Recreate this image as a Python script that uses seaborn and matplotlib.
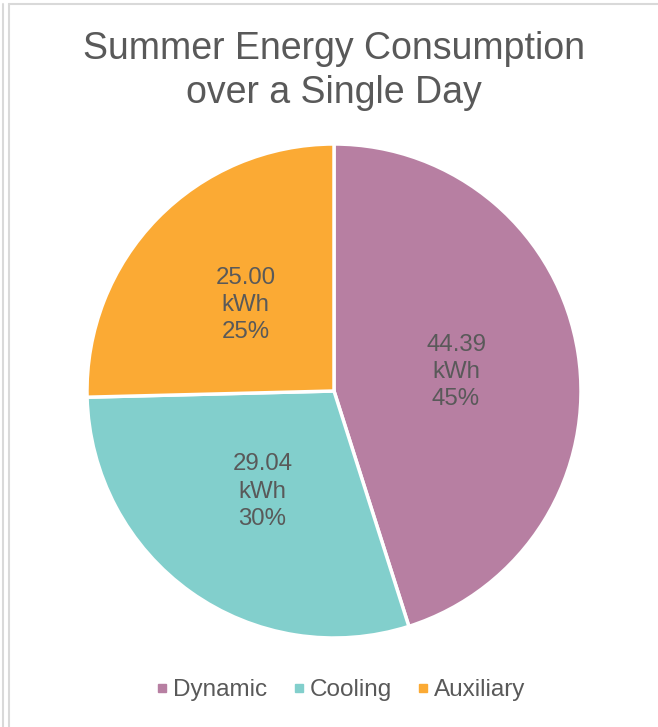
import matplotlib
matplotlib.use('Agg')
import matplotlib.pyplot as plt
import seaborn as sns
from matplotlib.lines import Line2D

sns.set_theme(style='white')
plt.rcParams['font.family'] = ['Liberation Sans', 'DejaVu Sans']

# chart data
categories = ['Dynamic', 'Cooling', 'Auxiliary']
energy_kwh = [44.39, 29.04, 25.00]
colors = ['#B77FA2', '#82CFCC', '#FBAA34']
text_color = '#595959'

total = sum(energy_kwh)

fig = plt.figure(figsize=(6.58, 7.27), dpi=100)
fig.patch.set_facecolor('white')

# pie axes placed to match the reference layout
ax = fig.add_axes([87 / 658, (727 - 638) / 727, 494 / 658, 494 / 727])


def label_fmt(pct):
    val = pct * total / 100
    return f'{val:.2f}\nkWh\n{pct:.0f}%'


wedges, texts, autotexts = ax.pie(
    energy_kwh,
    colors=colors,
    startangle=90,
    counterclock=False,
    radius=1,
    autopct=label_fmt,
    pctdistance=0.5,
    wedgeprops=dict(edgecolor='white', linewidth=2.5),
    textprops=dict(color=text_color, fontsize=17.3, linespacing=1.3),
)
ax.set_xlim(-1, 1)
ax.set_ylim(-1, 1)
ax.set_aspect('equal')
ax.axis('off')

fig.text(0.507, 1 - 71 / 727, 'Summer Energy Consumption\nover a Single Day',
         ha='center', va='center', fontsize=27, color=text_color, linespacing=1.32)

handles = [Line2D([0], [0], marker='s', linestyle='none', markersize=6,
                  markerfacecolor=c, markeredgecolor=c) for c in colors]
fig.legend(handles, categories, loc='center', bbox_to_anchor=(0.517, 1 - 690 / 727),
           ncol=3, frameon=False, fontsize=17.5, labelcolor=text_color,
           handlelength=0.6, handletextpad=0.15, columnspacing=1.0)

# light border lines like the reference frame
for x in (2.5 / 658, 8.5 / 658):
    fig.add_artist(Line2D([x, x], [0, 1 - 4 / 727], transform=fig.transFigure,
                          color='#D9D9D9', linewidth=1.5))
fig.add_artist(Line2D([8.5 / 658, 1], [1 - 3.5 / 727, 1 - 3.5 / 727],
                      transform=fig.transFigure, color='#D9D9D9', linewidth=1.5))

fig.savefig('out.png', dpi=100, facecolor='white')
